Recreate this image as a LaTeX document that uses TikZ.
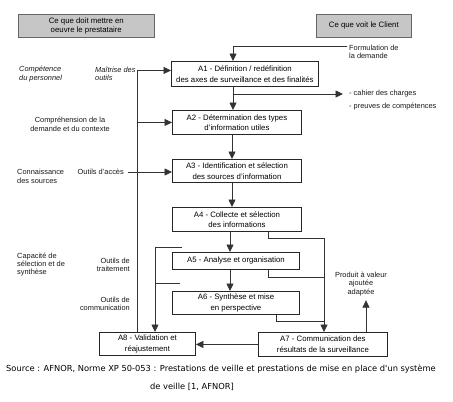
\documentclass[tikz,border=0pt]{standalone}
\usepackage{fontspec}
\setmainfont{Liberation Sans}
\newfontfamily\capfont{DejaVu Sans}
\usetikzlibrary{arrows.meta}
\begin{document}
\begin{tikzpicture}[x=1pt,y=-1pt,
  act/.style={draw=black!85, line width=0.9pt, fill=white, inner sep=0pt,
    font=\fontsize{7.8}{10.5}\selectfont, align=center, anchor=north west},
  hdr/.style={draw=black!60, line width=0.6pt, fill=gray!45, inner sep=0pt,
    font=\fontsize{7.8}{9.5}\selectfont, align=center, anchor=north west},
  lbl/.style={inner sep=0pt, font=\fontsize{7.4}{8.5}\selectfont, text=black!90},
  ln/.style={draw=black!80, line width=0.8pt},
  arr/.style={ln, -{Triangle[length=7.5pt,width=7pt]}},
  captxt/.style={inner sep=0pt, font=\capfont\fontsize{8.3}{10}\selectfont}
]
\useasboundingbox (0,0) rectangle (453,402);
\fill[white] (0,0) rectangle (453,402);

% headers
\node[hdr, minimum width=136pt, minimum height=23pt] (h1) at (18,14) {Ce que doit mettre en\\oeuvre le prestataire};
\node[hdr, minimum width=95pt, minimum height=23pt] (h2) at (316,14) {Ce que voit le Client};

% activity boxes
\node[act, minimum width=147pt, minimum height=25pt] (a1) at (171,61) {A1 - Définition / redéfinition\\des axes de surveillance et des finalités};
\node[act, minimum width=129pt, minimum height=24pt] (a2) at (172,110) {A2 - Détermination des types\\d'information utiles};
\node[act, minimum width=129pt, minimum height=23pt] (a3) at (172,159) {A3 - Identification et sélection\\des sources d'information};
\node[act, minimum width=129pt, minimum height=24pt] (a4) at (172,207) {A4 - Collecte et sélection\\des informations};
\node[act, minimum width=127pt, minimum height=17pt] (a5) at (172,252) {A5 - Analyse et organisation};
\node[act, minimum width=127pt, minimum height=23pt] (a6) at (172,291) {A6 - Synthèse et mise\\en perspective};
\node[act, minimum width=129pt, minimum height=24pt] (a7) at (258,332) {A7 - Communication des\\résultats de la surveillance};
\node[act, minimum width=96pt, minimum height=23pt] (a8) at (99,332) {A8 - Validation et\\réajustement};

% labels
\node[lbl, anchor=west, align=left, font=\fontsize{7.4}{8.5}\selectfont\itshape] (comp) at (19,74) {Compétence\\du personnel};
\node[lbl, anchor=west, align=left, font=\fontsize{7.4}{8.5}\selectfont\itshape] (maitr) at (95,74) {Maîtrise des\\outils};
\node[lbl, align=center] (compr) at (70,124.5) {Compréhension de la\\demande et du contexte};
\node[lbl, anchor=west, align=left, font=\fontsize{7.4}{9}\selectfont] (conn) at (17,176.5) {Connaissance\\des sources};
\node[lbl, anchor=east] (acces) at (124,172) {Outils d'accès};
\node[lbl, anchor=west, align=left, font=\fontsize{7.4}{7.8}\selectfont] (capa) at (17,264.5) {Capacité de\\sélection et de\\synthèse};
\node[lbl, anchor=east, align=right] (trait) at (130,265) {Outils de\\traitement};
\node[lbl, anchor=east, align=right] (commu) at (130,304) {Outils de\\communication};
\node[lbl, anchor=west, align=left] (form) at (349,52) {Formulation de\\la demande};
\node[lbl, anchor=west, align=left, font=\fontsize{7.4}{13}\selectfont] (cahier) at (349,100.5) {- cahier des charges\\- preuves de compétences};
\node[lbl, align=center] (prod) at (361,284) {Produit à valeur\\ajoutée\\adaptée};

% coordinates
\coordinate (x1) at (233,0);
\coordinate (cx) at (232,0);
\coordinate (cy) at (230,0);
\coordinate (lv) at (137,0);
\coordinate (ll) at (155,0);
\coordinate (rr) at (324,0);
\coordinate (fstart) at (347,46);
\coordinate (br) at (233,94);
\coordinate (t1) at (182,247);
\coordinate (t2) at (180,283);

% main chain
\draw[arr] (fstart) -| (x1 |- a1.north);
\draw[arr] (x1 |- a1.south) -- (x1 |- a2.north);
\draw[arr] (br) -- ([xshift=-6pt]cahier.west |- br);
\draw[arr] (cx |- a2.south) -- (cx |- a3.north);
\draw[arr] (cx |- a3.south) -- (cx |- a4.north);
\draw[arr] (cy |- a4.south) -- (cy |- a5.north);
\draw[arr] (cy |- a5.south) -- (cy |- a6.north);

% left feedback
\draw[arr] (lv |- a8.north) |- ([yshift=3.5pt]a1.west);
\draw[arr] (lv |- a2.west) -- (a2.west);
\draw[arr] ([xshift=4pt]acces.east) -- (a3.west |- acces.east);
\draw[arr] (t1) -| (ll |- a8.north);
\draw[ln] (t2) -- (ll |- t2);

% right side
\draw[ln] (a4.south -| 268,0) |- (rr |- 0,238);
\draw[ln] (a5.south -| 268,0) |- (rr |- 0,277);
\draw[ln] (a6.south -| 276,0) |- (rr |- 0,321);
\draw[arr] (rr |- 0,238) -- (rr |- a7.north);
\draw[arr] (a7.north -| 366,0) -- ([yshift=-4pt]prod.south -| 366,0);
\draw[arr] (a7.west) -- (a8.east |- a7.west);

% caption
\node[captxt] (c1) at (221,369) {Source : AFNOR, Norme XP 50-053 : Prestations de veille et prestations de mise en place d'un système};
\node[captxt] (c2) at (192,387) {de veille [1, AFNOR]};
\end{tikzpicture}
\end{document}
